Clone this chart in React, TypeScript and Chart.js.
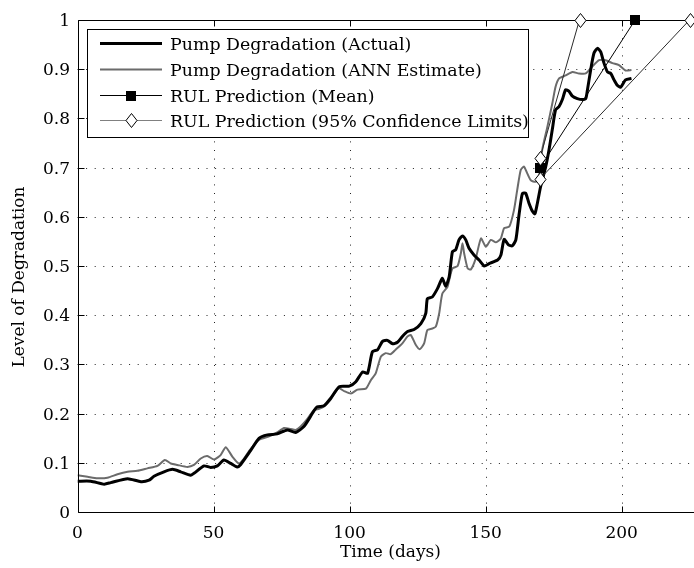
import React, { useEffect, useRef } from "react";
import { Chart, registerables } from "chart.js";

Chart.register(...registerables);

// Measured pump degradation (thick black curve)
const actualDays = [
  0, 4.9, 9.8, 12.2, 18.4, 23.3, 26.3, 28.1, 31.8, 34.9, 37.9, 41.6, 42.8, 46.5, 48.9, 51.4, 53.8, 56.3, 58.7, 60,
  63.6, 66.7, 69.8, 73.4, 77.1, 80.2, 83.2, 85.7, 87, 88.1, 90.6, 93, 96.2, 99.9, 102.3, 104.8, 106.6, 108.4, 110.3,
  112.1, 113.9, 115.8, 117.6, 119.4, 121.3, 123.7, 126.2, 128, 128.6, 130.4, 132.3, 134.1, 135.3, 136.6, 137.8, 139,
  140.2, 141.5, 142.7, 143.9, 145.8, 147.6, 149.5, 151.3, 154.4, 155.6, 156.8, 158.4, 159.8, 161.1, 162.3, 163.5,
  164.7, 165.9, 167.2, 168.1, 169, 170.2, 172.1, 173.3, 174.5, 175.7, 177, 178.2, 179.4, 180.6, 181.9, 183.7, 185.5,
  186.8, 187.4, 188.6, 189.8, 191.1, 192.3, 193.5, 194.8, 196, 197.2, 198.4, 199.6, 201.4, 203.6,
];
const actualLevel = [
  0.063, 0.063, 0.057, 0.06, 0.068, 0.062, 0.065, 0.073, 0.082, 0.087, 0.082, 0.075, 0.079, 0.094, 0.091, 0.094,
  0.106, 0.099, 0.092, 0.097, 0.125, 0.15, 0.157, 0.159, 0.167, 0.162, 0.174, 0.195, 0.207, 0.214, 0.216, 0.231,
  0.255, 0.256, 0.265, 0.285, 0.282, 0.326, 0.33, 0.347, 0.349, 0.342, 0.345, 0.357, 0.367, 0.371, 0.383, 0.404,
  0.434, 0.437, 0.454, 0.475, 0.459, 0.478, 0.529, 0.533, 0.553, 0.561, 0.553, 0.536, 0.522, 0.512, 0.5, 0.505,
  0.512, 0.522, 0.554, 0.543, 0.541, 0.553, 0.605, 0.647, 0.648, 0.628, 0.611, 0.606, 0.627, 0.661, 0.702, 0.736,
  0.777, 0.817, 0.824, 0.838, 0.858, 0.855, 0.845, 0.84, 0.838, 0.84, 0.857, 0.898, 0.932, 0.942, 0.935, 0.912,
  0.894, 0.891, 0.878, 0.867, 0.863, 0.878, 0.881,
];

// Neural-network estimate of the degradation (grey curve)
const annDays = [
  0, 3.7, 7.3, 11, 14.7, 18.4, 22, 25.7, 29.4, 32.1, 34.3, 36.7, 40.4, 42.8, 45.3, 47.7, 50.2, 52.6, 54.5, 56.9,
  59.3, 61.2, 63.6, 66.7, 70.4, 73.4, 75.9, 78.3, 80.2, 82, 84.4, 86.9, 88.8, 90.6, 92.8, 95.9, 98, 100.5, 102.9,
  106, 107.8, 109.6, 111.5, 113.3, 115.1, 116.9, 119.4, 121.3, 122.5, 124.3, 125.8, 127.4, 128.6, 130.4, 131.7,
  132.9, 134.1, 136, 136.6, 137.8, 139.7, 140.9, 141.5, 142.1, 143.4, 144.6, 146.4, 148.3, 150.1, 151.9, 153.8,
  155.6, 156.8, 158.7, 160.4, 161.6, 162.9, 164.1, 165.3, 166.6, 168.4, 169.6, 170.8, 172.7, 174.5, 175.7, 177,
  179.4, 181.9, 184.3, 186.8, 189.2, 191.7, 194.1, 196.6, 199, 201.4, 203.6,
];
const annLevel = [
  0.075, 0.072, 0.069, 0.07, 0.077, 0.082, 0.084, 0.089, 0.094, 0.106, 0.099, 0.096, 0.092, 0.096, 0.109, 0.114,
  0.107, 0.116, 0.132, 0.113, 0.099, 0.109, 0.128, 0.147, 0.154, 0.162, 0.171, 0.169, 0.167, 0.174, 0.189, 0.207,
  0.21, 0.215, 0.227, 0.252, 0.246, 0.241, 0.249, 0.251, 0.268, 0.282, 0.316, 0.323, 0.321, 0.33, 0.343, 0.357,
  0.36, 0.34, 0.331, 0.343, 0.37, 0.373, 0.377, 0.403, 0.444, 0.458, 0.471, 0.495, 0.5, 0.526, 0.546, 0.526, 0.495,
  0.493, 0.516, 0.556, 0.539, 0.553, 0.548, 0.556, 0.577, 0.58, 0.613, 0.654, 0.695, 0.702, 0.688, 0.674, 0.671,
  0.681, 0.736, 0.783, 0.83, 0.864, 0.881, 0.887, 0.894, 0.891, 0.891, 0.905, 0.918, 0.918, 0.912, 0.908, 0.897,
  0.898,
];

// Remaining-useful-life projections from day 170 up to full degradation
const rulMeanDays = [170, 205];
const rulMeanLevel = [0.7, 1.0];
const rulUpperDays = [170, 184.5];
const rulUpperLevel = [0.72, 1.0];
const rulLowerDays = [170, 225];
const rulLowerLevel = [0.677, 1.0];

const xTicks = [0, 50, 100, 150, 200];
const yTicks = [0, 0.1, 0.2, 0.3, 0.4, 0.5, 0.6, 0.7, 0.8, 0.9, 1];
const xMax = 230;

const legendLabels = [
  "Pump Degradation (Actual)",
  "Pump Degradation (ANN Estimate)",
  "RUL Prediction (Mean)",
  "RUL Prediction (95% Confidence Limits)",
];

const FONT = '17px "DejaVu Serif"';
const LEGEND_FONT = '17.4px "DejaVu Serif"';
const GREY = "#6b6b6b";
const CANVAS_W = 706;
const CANVAS_H = 568;

const pairs = (xs: number[], ys: number[]) => xs.map((x, i) => ({ x, y: ys[i] }));

function drawSquare(ctx: CanvasRenderingContext2D, x: number, y: number) {
  const cx = Math.round(x);
  const cy = Math.round(y);
  ctx.fillStyle = "#000";
  ctx.fillRect(cx - 5, cy - 5, 10, 10);
}

function drawDiamond(ctx: CanvasRenderingContext2D, x: number, y: number) {
  const cx = Math.round(x) + 0.5;
  const cy = Math.round(y) + 0.5;
  ctx.beginPath();
  ctx.moveTo(cx, cy - 7);
  ctx.lineTo(cx + 5.5, cy);
  ctx.lineTo(cx, cy + 7);
  ctx.lineTo(cx - 5.5, cy);
  ctx.closePath();
  ctx.fillStyle = "#fff";
  ctx.fill();
  ctx.strokeStyle = "#000";
  ctx.lineWidth = 1;
  ctx.stroke();
}

export default function App() {
  const ref = useRef<HTMLCanvasElement>(null);

  useEffect(() => {
    const canvas = ref.current;
    if (!canvas) return;

    const gridPlugin = {
      id: "dottedGrid",
      beforeDatasetsDraw(chart: any) {
        const { ctx, chartArea: a, scales } = chart;
        ctx.save();
        ctx.strokeStyle = "#222";
        ctx.lineWidth = 1;
        ctx.setLineDash([1, 7.6]);
        for (const v of xTicks) {
          if (v === 0) continue;
          const px = Math.round(scales.x.getPixelForValue(v)) + 0.5;
          ctx.beginPath();
          ctx.moveTo(px, a.bottom);
          ctx.lineTo(px, a.top);
          ctx.stroke();
        }
        for (const v of yTicks) {
          if (v === 0 || v === 1) continue;
          const py = Math.round(scales.y.getPixelForValue(v)) + 0.5;
          ctx.beginPath();
          ctx.moveTo(a.left, py);
          ctx.lineTo(a.right, py);
          ctx.stroke();
        }
        ctx.restore();
      },
    };

    const framePlugin = {
      id: "frame",
      afterDatasetsDraw(chart: any) {
        const { ctx, chartArea: a, scales } = chart;
        ctx.save();
        ctx.strokeStyle = "#000";
        ctx.lineWidth = 1;
        const L = Math.round(a.left) + 0.5;
        const R = Math.round(a.right) + 0.5;
        const T = Math.round(a.top) + 0.5;
        const B = Math.round(a.bottom) + 0.5;
        ctx.beginPath();
        ctx.rect(L, T, R - L, B - T);
        ctx.stroke();
        const tick = 6;
        ctx.beginPath();
        for (const v of xTicks) {
          const px = Math.round(scales.x.getPixelForValue(v)) + 0.5;
          ctx.moveTo(px, B);
          ctx.lineTo(px, B - tick);
          ctx.moveTo(px, T);
          ctx.lineTo(px, T + tick);
        }
        for (const v of yTicks) {
          const py = Math.round(scales.y.getPixelForValue(v)) + 0.5;
          ctx.moveTo(L, py);
          ctx.lineTo(L + tick, py);
          ctx.moveTo(R, py);
          ctx.lineTo(R - tick, py);
        }
        ctx.stroke();

        ctx.fillStyle = "#000";
        ctx.font = FONT;
        ctx.textBaseline = "alphabetic";
        ctx.textAlign = "right";
        for (const v of yTicks) {
          const py = scales.y.getPixelForValue(v);
          ctx.fillText(String(v), a.left - 7.5, py + 6);
        }
        ctx.textAlign = "center";
        for (const v of xTicks) {
          const px = scales.x.getPixelForValue(v);
          ctx.fillText(String(v), px, B + 25);
        }
        ctx.fillText("Time (days)", (a.left + a.right) / 2, 557);
        ctx.save();
        ctx.translate(24, 277);
        ctx.rotate(-Math.PI / 2);
        ctx.fillText("Level of Degradation", 0, 0);
        ctx.restore();
        ctx.restore();
      },
    };

    // RUL end-point markers, placed at the points the line controller computed
    const markerPlugin = {
      id: "rulMarkers",
      afterDatasetsDraw(chart: any) {
        const { ctx } = chart;
        ctx.save();
        chart.data.datasets.forEach((ds: any, i: number) => {
          if (!ds.markerKind) return;
          const meta = chart.getDatasetMeta(i);
          for (const el of meta.data) {
            if (ds.markerKind === "square") drawSquare(ctx, el.x, el.y);
            else drawDiamond(ctx, el.x, el.y);
          }
        });
        ctx.restore();
      },
    };

    const legendPlugin = {
      id: "boxLegend",
      afterDraw(chart: any) {
        const { ctx } = chart;
        ctx.save();
        const bx = 87.5, by = 29.5, bw = 441, bh = 108;
        ctx.fillStyle = "#fff";
        ctx.fillRect(bx, by, bw, bh);
        ctx.strokeStyle = "#000";
        ctx.lineWidth = 1;
        ctx.strokeRect(bx, by, bw, bh);
        const rows = [43.5, 69.5, 95.5, 120.5];
        const styles = [
          { color: "#000", width: 3, marker: "" },
          { color: GREY, width: 2, marker: "" },
          { color: "#000", width: 1, marker: "square" },
          { color: "#808080", width: 1, marker: "diamond" },
        ];
        rows.forEach((ry, i) => {
          const s = styles[i];
          ctx.strokeStyle = s.color;
          ctx.lineWidth = s.width;
          ctx.beginPath();
          ctx.moveTo(100, ry);
          ctx.lineTo(162, ry);
          ctx.stroke();
          if (s.marker === "square") drawSquare(ctx, 131, ry);
          if (s.marker === "diamond") drawDiamond(ctx, 131, ry - 0.5);
          ctx.fillStyle = "#000";
          ctx.font = LEGEND_FONT;
          ctx.textAlign = "left";
          ctx.textBaseline = "alphabetic";
          ctx.fillText(legendLabels[i], 170, ry + 6);
        });
        ctx.restore();
      },
    };

    const chart = new Chart(canvas, {
      type: "line",
      data: {
        datasets: [
          {
            data: pairs(rulMeanDays, rulMeanLevel),
            borderColor: "#000",
            borderWidth: 1,
            pointRadius: 0,
            clip: false,
            order: 0,
            markerKind: "square",
          },
          {
            data: pairs(rulUpperDays, rulUpperLevel),
            borderColor: "#2a2a2a",
            borderWidth: 1,
            pointRadius: 0,
            clip: false,
            order: 0,
            markerKind: "diamond",
          },
          {
            data: pairs(rulLowerDays, rulLowerLevel),
            borderColor: "#2a2a2a",
            borderWidth: 1,
            pointRadius: 0,
            clip: false,
            order: 0,
            markerKind: "diamond",
          },
          {
            data: pairs(actualDays, actualLevel),
            borderColor: "#000",
            borderWidth: 3,
            pointRadius: 0,
            tension: 0.2,
            order: 1,
          },
          {
            data: pairs(annDays, annLevel),
            borderColor: GREY,
            borderWidth: 2,
            pointRadius: 0,
            tension: 0.2,
            order: 2,
          },
        ],
      },
      options: {
        animation: false,
        responsive: false,
        devicePixelRatio: 1,
        events: [],
        layout: {
          padding: { left: 77.5, top: 19.8, right: CANVAS_W - 703.3, bottom: CANVAS_H - 512.2 },
        },
        scales: {
          x: { type: "linear", min: 0, max: xMax, display: false },
          y: { type: "linear", min: 0, max: 1, display: false },
        },
        plugins: {
          legend: { display: false },
          tooltip: { enabled: false },
        },
      },
      plugins: [gridPlugin, framePlugin, markerPlugin, legendPlugin],
    } as any);

    return () => chart.destroy();
  }, []);

  return (
    <div
      style={{
        position: "absolute",
        left: 0,
        top: 0,
        width: 694,
        height: 568,
        overflow: "hidden",
        background: "#fff",
      }}
    >
      <canvas ref={ref} width={CANVAS_W} height={CANVAS_H} style={{ display: "block" }} />
    </div>
  );
}
